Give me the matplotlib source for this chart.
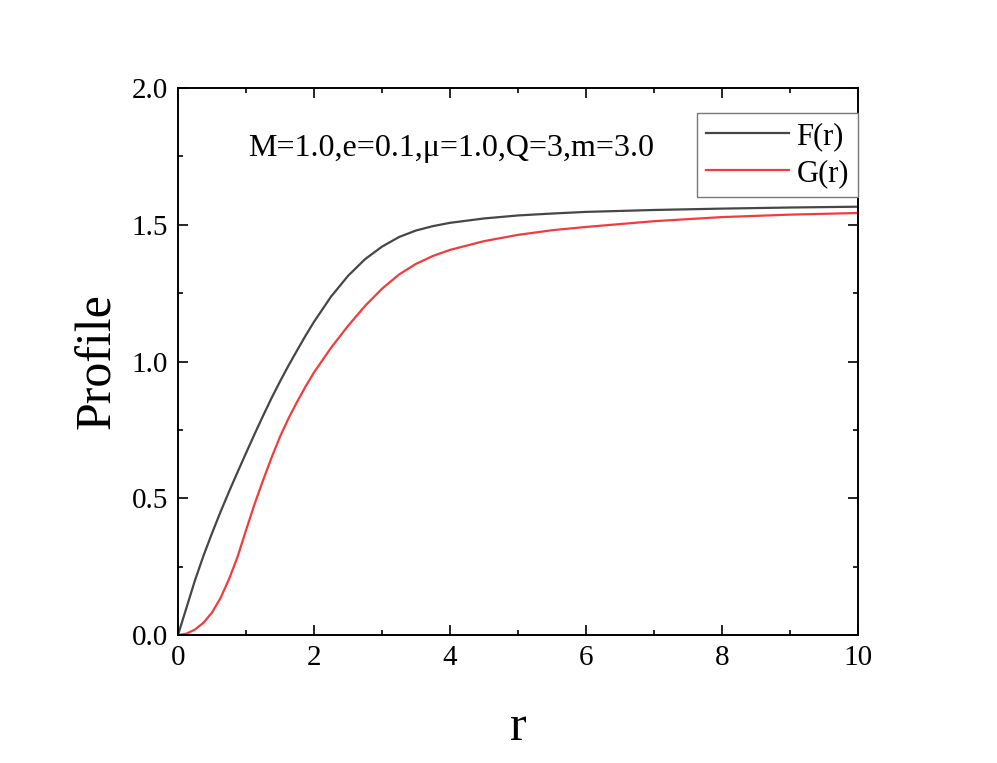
import matplotlib
matplotlib.use("Agg")
import matplotlib.pyplot as plt
from matplotlib.ticker import MultipleLocator

plt.rcParams['font.family'] = ['Liberation Serif', 'DejaVu Serif']

r = [0.0, 0.125, 0.25, 0.375, 0.5, 0.625, 0.75, 0.875, 1.0, 1.125, 1.25,
     1.375, 1.5, 1.625, 1.75, 1.875, 2.0, 2.25, 2.5, 2.75, 3.0, 3.25, 3.5,
     3.75, 4.0, 4.5, 5.0, 5.5, 6.0, 7.0, 8.0, 9.0, 10.0]
F = [0.0, 0.100, 0.200, 0.290, 0.372, 0.450, 0.524, 0.595, 0.665, 0.734,
     0.801, 0.866, 0.927, 0.985, 1.040, 1.094, 1.145, 1.237, 1.313, 1.374,
     1.420, 1.455, 1.479, 1.495, 1.507, 1.523, 1.534, 1.541, 1.547, 1.554,
     1.559, 1.563, 1.566]
G = [0.0, 0.005, 0.020, 0.045, 0.082, 0.135, 0.204, 0.285, 0.383, 0.478,
     0.565, 0.648, 0.725, 0.792, 0.852, 0.908, 0.960, 1.050, 1.130, 1.203,
     1.266, 1.318, 1.357, 1.386, 1.408, 1.440, 1.463, 1.480, 1.492, 1.513,
     1.528, 1.537, 1.543]

series_labels = ['F(r)', 'G(r)']
annotation = 'M=1.0,e=0.1,\u03bc=1.0,Q=3,m=3.0'

fig = plt.figure(figsize=(9.97, 7.63), dpi=100)
ax = fig.add_axes([178/997, 1-635/763, (858-178)/997, (635-88)/763])

ax.plot(r, F, color='#464646', lw=1.6, label=series_labels[0])
ax.plot(r, G, color='#f23c3c', lw=1.6, label=series_labels[1])

ax.set_xlim(0, 10)
ax.set_ylim(0, 2.0)
ax.xaxis.set_major_locator(MultipleLocator(2))
ax.xaxis.set_minor_locator(MultipleLocator(1))
ax.yaxis.set_major_locator(MultipleLocator(0.5))
ax.yaxis.set_minor_locator(MultipleLocator(0.25))
ax.set_yticks([0.0, 0.5, 1.0, 1.5, 2.0])
ax.set_yticklabels(['0.0', '0.5', '1.0', '1.5', '2.0'])

ax.tick_params(which='both', direction='in', top=True, right=True, width=1.2)
ax.tick_params(which='major', length=7, labelsize=21, pad=7)
ax.tick_params(which='minor', length=3.6)
for s in ax.spines.values():
    s.set_linewidth(1.4)

ax.set_xlabel('r', fontsize=36, labelpad=24)
ax.set_ylabel('Profile', fontsize=36, labelpad=8)

ax.text(1.03, 1.777, annotation, fontsize=23, va='center', ha='left')

leg = ax.legend(loc='upper right', bbox_to_anchor=(1.0, 1 - 25/547),
                borderaxespad=0, fontsize=22, handlelength=2.7,
                handletextpad=0.25, fancybox=False, framealpha=1,
                borderpad=0.3, labelspacing=0.25)
leg.get_frame().set_edgecolor('#777777')
leg.get_frame().set_linewidth(1.0)

fig.savefig('out.png', dpi=100)
